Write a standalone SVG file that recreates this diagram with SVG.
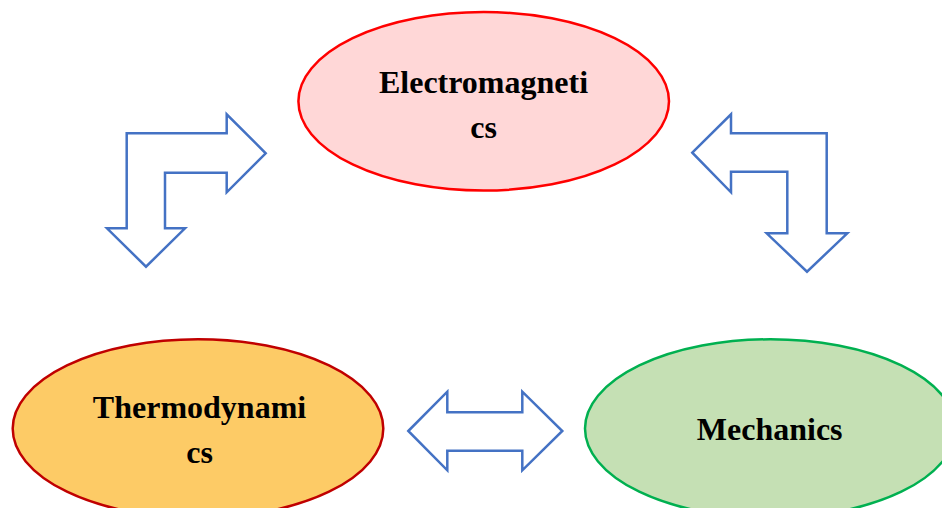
<svg xmlns="http://www.w3.org/2000/svg" width="942" height="508" viewBox="0 0 942 508">
<style>
.arrow{fill:#FFFFFF;stroke:#4472C4;stroke-width:2.5;stroke-linejoin:miter}
.lbl{font-family:"Liberation Serif","Times New Roman",serif;font-weight:bold;font-size:32px;fill:#000000;text-anchor:middle}
</style>
<rect width="942" height="508" fill="#FFFFFF"/>
<g id="connectors">
<polygon class="arrow" points="126.7,133.3 226.7,133.3 226.7,114.3 265.7,153.3 226.7,192.3 226.7,172.7 165,172.7 165,228.3 185,228.3 146,266.7 107,228.3 126.7,228.3"/>
<polygon class="arrow" points="692.3,152.7 731,114.3 731,133.3 826.7,133.3 826.7,233.3 847.3,233.3 807,271.7 766.7,233.3 787.3,233.3 787.3,171.7 731,171.7 731,192.3"/>
<polygon class="arrow" points="408.3,431 447.3,391.7 447.3,412.3 522.3,412.3 522.3,391.7 562.3,431 522.3,470.3 522.3,450.7 447.3,450.7 447.3,470.3"/>
</g>
<g id="electromagnetics">
<ellipse cx="483.7" cy="101.3" rx="185.3" ry="89.3" fill="#FFD7D7" stroke="#FF0000" stroke-width="2.5"/>
<text class="lbl" x="483.5" y="93.3">Electromagneti</text>
<text class="lbl" x="483.5" y="138.3">cs</text>
</g>
<g id="thermodynamics">
<ellipse cx="198" cy="428.6" rx="185.3" ry="89.3" fill="#FDCB66" stroke="#C00000" stroke-width="2.5"/>
<text class="lbl" x="199.5" y="418.3">Thermodynami</text>
<text class="lbl" x="199.5" y="463.3">cs</text>
</g>
<g id="mechanics">
<ellipse cx="770.3" cy="428.6" rx="185.3" ry="89.3" fill="#C5E0B4" stroke="#00B050" stroke-width="2.5"/>
<text class="lbl" x="769.7" y="440">Mechanics</text>
</g>
</svg>
